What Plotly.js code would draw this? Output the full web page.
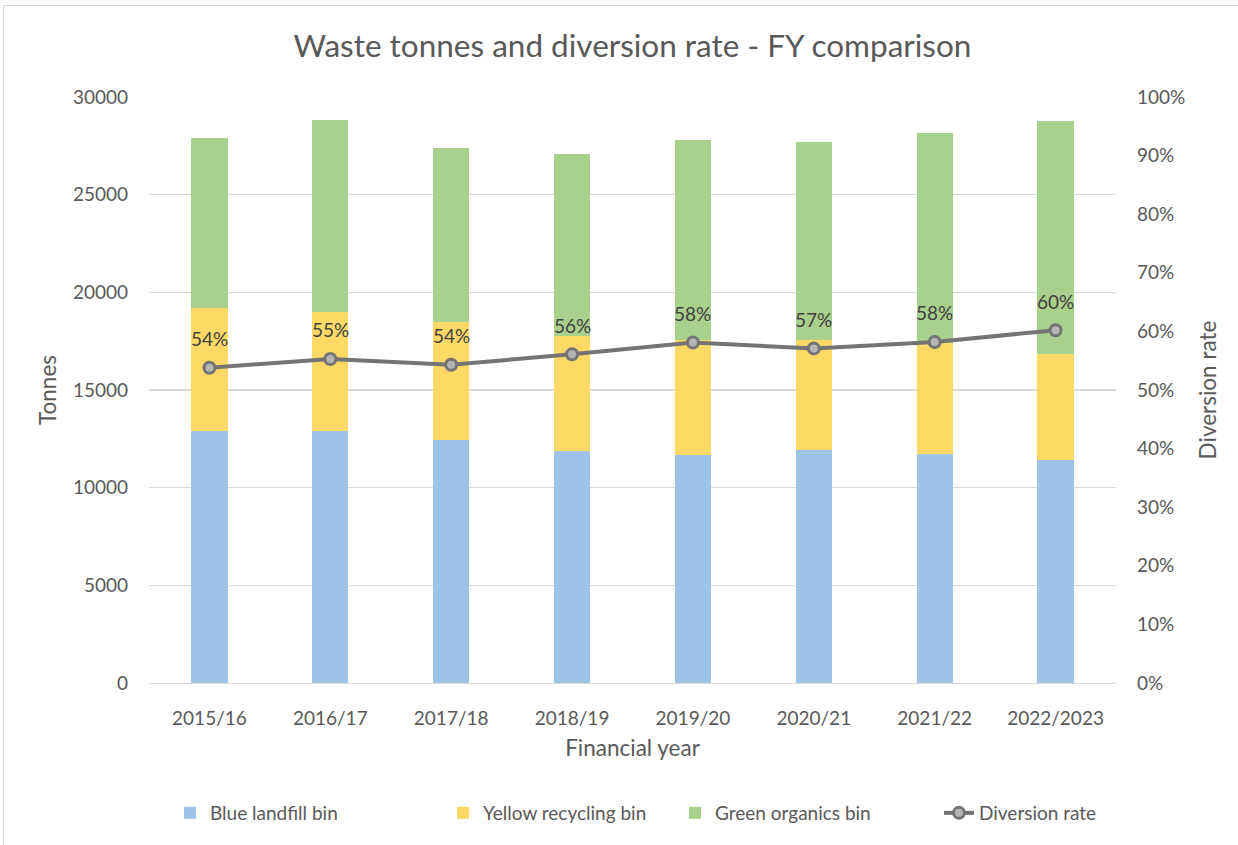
<!DOCTYPE html>
<html>
<head>
<meta charset="utf-8">
<script src="https://cdn.plot.ly/plotly-3.0.1.min.js"></script>
<style>
  html, body { margin: 0; padding: 0; background: #ffffff; }
  #chart { position: absolute; left: 0; top: 0; width: 1238px; height: 845px; }
  #frame {
    position: absolute; left: 3px; top: 5px; width: 1300px; height: 900px;
    border-left: 1px solid #d6d6d6; border-top: 1px solid #d6d6d6;
    pointer-events: none; box-sizing: border-box;
  }
</style>
</head>
<body>
<div id="chart"></div>
<div id="frame"></div>
<script>
// Financial years shown on the category axis
const years = ['2015/16', '2016/17', '2017/18', '2018/19', '2019/20', '2020/21', '2021/22', '2022/2023'];

// Tonnes collected per bin stream
const landfillTonnes  = [12900, 12900, 12460, 11860, 11660, 11910, 11720, 11420];
const recyclingTonnes = [6300, 6080, 6000, 5890, 5900, 5650, 5680, 5410];
const organicsTonnes  = [8700, 9840, 8910, 9310, 10220, 10150, 10760, 11920];

// Share of waste diverted from landfill
const diversionRate = [0.538, 0.553, 0.543, 0.561, 0.581, 0.571, 0.582, 0.602];

// Right-axis tick values
const rateTicks = [0, 0.1, 0.2, 0.3, 0.4, 0.5, 0.6, 0.7, 0.8, 0.9, 1.0];

const FONT = 'Lato, "Open Sans", sans-serif';
const GREY_TEXT = '#595959';
const LEGEND_FONT = { family: FONT, size: 19, color: GREY_TEXT };

const traces = [
  {
    type: 'bar', name: 'Blue landfill bin', x: years, y: landfillTonnes,
    marker: { color: '#9dc3e6' }, legend: 'legend'
  },
  {
    type: 'bar', name: 'Yellow recycling bin', x: years, y: recyclingTonnes,
    marker: { color: '#ffd966' }, legend: 'legend2'
  },
  {
    type: 'bar', name: 'Green organics bin', x: years, y: organicsTonnes,
    marker: { color: '#a9d18e' }, legend: 'legend3'
  },
  {
    type: 'scatter', mode: 'lines+markers', name: 'Diversion rate',
    x: years, y: diversionRate, yaxis: 'y2', legend: 'legend4',
    line: { color: '#747474', width: 4 },
    marker: { size: 11, color: '#b5b5b5', line: { color: '#747474', width: 3 } },
    cliponaxis: false
  }
];

// Percentage labels sitting above each diversion-rate point
const rateLabels = years.map((yr, i) => ({
  x: yr, y: diversionRate[i], xref: 'x', yref: 'y2',
  text: Math.round(diversionRate[i] * 100) + '%',
  showarrow: false, yshift: 29,
  font: { family: FONT, size: 19, color: '#404040' }
}));

// One legend block per series so each entry can be placed on its own
function legendAt(px) {
  return {
    orientation: 'h', x: px / 1238, xref: 'container', xanchor: 'left',
    y: 1 - 813 / 845, yref: 'container', yanchor: 'middle',
    font: LEGEND_FONT, bgcolor: 'rgba(0,0,0,0)', borderwidth: 0
  };
}

const layout = {
  width: 1238, height: 845,
  paper_bgcolor: '#ffffff', plot_bgcolor: '#ffffff',
  font: { family: FONT, color: GREY_TEXT, size: 19 },
  margin: { l: 149, r: 122, t: 97, b: 162, pad: 0 },
  barmode: 'stack', bargap: 0.70,
  showlegend: true,
  title: {
    text: 'Waste tonnes and diversion rate - FY comparison',
    font: { family: FONT, size: 31.5, color: '#595959' },
    x: 0.5, xanchor: 'center', xref: 'paper',
    y: 1 - 46 / 845, yref: 'container', yanchor: 'middle'
  },
  xaxis: {
    type: 'category', showgrid: false, zeroline: false,
    showline: true, linecolor: '#d9d9d9', linewidth: 1,
    ticks: '', ticklabelstandoff: 18,
    tickfont: { family: FONT, size: 19, color: GREY_TEXT },
    title: { text: 'Financial year', standoff: 12, font: { family: FONT, size: 22.5, color: GREY_TEXT } }
  },
  yaxis: {
    range: [0, 30000], dtick: 5000, tick0: 0, tickformat: 'd',
    showgrid: true, gridcolor: '#d9d9d9', gridwidth: 1.5,
    zeroline: false, showline: false, ticks: '',
    ticklabelstandoff: 20,
    tickfont: { family: FONT, size: 19, color: GREY_TEXT },
    title: { text: 'Tonnes', standoff: 10, font: { family: FONT, size: 22.5, color: GREY_TEXT } }
  },
  yaxis2: {
    overlaying: 'y', side: 'right', range: [0, 1],
    tickvals: rateTicks, tickformat: '.0%',
    showgrid: false, zeroline: false, showline: false, ticks: '',
    ticklabelstandoff: 20,
    tickfont: { family: FONT, size: 19, color: GREY_TEXT },
    title: { text: 'Diversion rate', standoff: 15, font: { family: FONT, size: 22.5, color: GREY_TEXT } }
  },
  legend: legendAt(170),
  legend2: legendAt(443),
  legend3: legendAt(675),
  legend4: legendAt(939),
  annotations: rateLabels
};

Plotly.newPlot('chart', traces, layout, { displayModeBar: false, staticPlot: true });
</script>
</body>
</html>
